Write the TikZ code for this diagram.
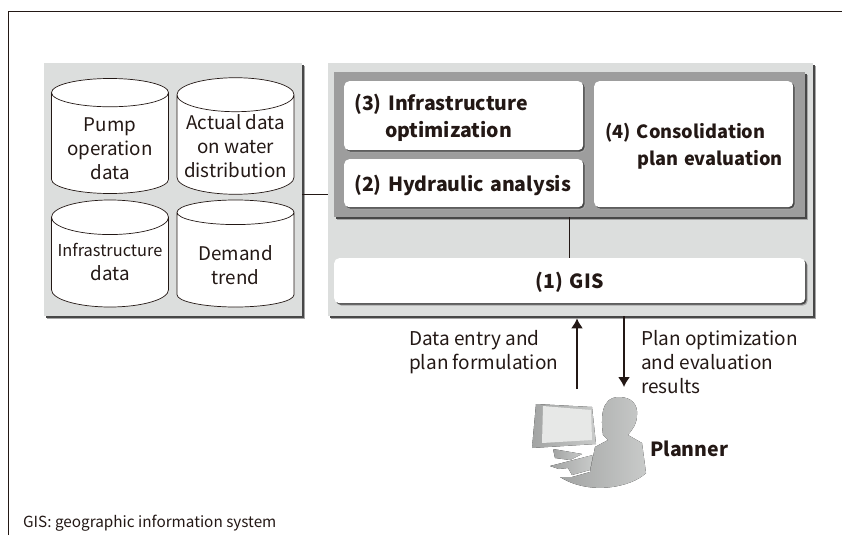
\documentclass[tikz,border=0pt]{standalone}
\usepackage{fontspec}
\setmainfont{Noto Sans CJK JP}
\usetikzlibrary{positioning,shapes.geometric,shadows,arrows.meta}
\definecolor{panelgray}{HTML}{DCDEDD}
\definecolor{innergray}{HTML}{9D9D9D}
\definecolor{inkdark}{HTML}{231815}
\definecolor{shadegray}{HTML}{BFC1C0}
\newcommand{\cyltop}[1]{\rule{0pt}{#1}}
\tikzset{
  softshadow/.style={drop shadow={shadow xshift=#1+1pt,shadow yshift=-#1-1pt,fill=black!35,opacity=1},
    drop shadow={shadow xshift=#1,shadow yshift=-#1,fill=black!72,opacity=1}},
  panelbox/.style={fill=panelgray,softshadow=2pt,anchor=north west,inner sep=0pt},
  whitebox/.style={fill=white,rounded corners=5pt,softshadow=1.5pt,anchor=north west,align=left,
    font=\bfseries\fontsize{19.5}{27}\selectfont,text=inkdark,inner xsep=10pt,inner ysep=0pt,
    execute at begin node={\cyltop{20pt}}},
  datacyl/.style={cylinder,shape border rotate=90,aspect=0.33,draw=inkdark,fill=white,line width=0.7pt,
    minimum width=117pt,anchor=shape center,align=center,font=\fontsize{18.8}{24}\selectfont,text=inkdark,inner sep=0pt},
  link/.style={draw=inkdark,line width=1.3pt},
  flowlink/.style={draw=inkdark,line width=1.5pt},
  flowtext/.style={font=\fontsize{19}{24}\selectfont,text=inkdark,align=left,inner sep=0pt,anchor=west},
  icongray/.style={left color=shadegray!85!black,right color=shadegray!85!white}
}
\begin{document}
\begin{tikzpicture}[x=1pt,y=-1pt,>={Latex[length=10pt,width=12pt]}]
  \useasboundingbox (0,0) rectangle (842,535);

  % frame
  \coordinate (f1) at (8,11);
  \coordinate (f2) at (842,11);
  \coordinate (f3) at (8,535);
  \draw [inkdark,line width=0.8pt] (f3) -- (f1) -- (f2);

  % panels
  \node[panelbox,minimum width=258pt,minimum height=253pt] (dataPanel) at (44,63) {};
  \node[panelbox,minimum width=485pt,minimum height=253pt] (sysPanel) at (328,63) {};
  \node[panelbox,fill=innergray,minimum width=471pt,minimum height=145pt] (optPanel) at (334,72) {};

  % data stores
  \node[datacyl,minimum height=109pt] (pump) at (110,136) {\cyltop{24pt}Pump\\operation\\data};
  \node[datacyl,minimum height=109pt] (actual) at (235.5,136) {\cyltop{17pt}Actual data\\on water\\distribution};
  \node[datacyl,minimum height=107pt] (infra) at (110,253.5) {\fontsize{16.4}{24}\selectfont Infrastructure\\data};
  \node[datacyl,minimum height=107pt] (demand) at (235.5,253.5) {\cyltop{26pt}Demand\\trend};

  % functions
  \node[whitebox,minimum width=239pt,minimum height=69pt,text width=219pt] (optBox) at (344,81) {(3) Infrastructure\\\hspace*{31pt}optimization};
  \node[whitebox,minimum width=239pt,minimum height=48pt,text width=219pt] (hydBox) at (344,159) {(2) Hydraulic analysis};
  \node[whitebox,font=\bfseries\fontsize{18.2}{27}\selectfont,minimum width=199pt,minimum height=126pt,text width=190pt,inner xsep=4.5pt] (evalBox) at (594,81) {\hspace*{6.5pt}(4) Consolidation\\\hspace*{38.5pt}plan evaluation};
  \node[whitebox,align=center,minimum width=471pt,minimum height=45pt,text width=451pt] (gisBox) at (334,258) {(1) GIS};

  % connectors
  \draw [link] (dataPanel.east |- actual.south) -- (sysPanel.west |- actual.south);
  \draw [link] (optPanel.south -| gisBox.north) -- (gisBox.north);

  \coordinate (upFoot) at (577,389);
  \coordinate (downFoot) at (624,387);
  \draw [->,flowlink,shorten >=2pt] (upFoot) -- (upFoot |- sysPanel.south);
  \draw [->,flowlink] (downFoot |- sysPanel.south) -- (downFoot);

  \node[flowtext] (entryText) at (409,352) {Data entry and\\plan formulation};
  \node[flowtext] (planText) at (641,362) {Plan optimization\\and evaluation\\results};

  % planner icon
  \fill [icongray] (536,404) -- (592,407) -- (596,444) -- (532,448) -- cycle;
  \fill [panelgray!70!white] (543,406) -- (591,410) -- (592,440) -- (542,443) -- cycle;
  \fill [icongray] (553,449) -- (582,454) -- (570,460) -- (555,458) -- cycle;
  \fill [icongray] (550,466) -- (593,455) -- (590,470) -- (572,475) -- (568,468) -- (559,469) -- cycle;
  \fill [icongray] (619,397) .. controls (632,397) and (638,405) .. (637,415)
    .. controls (637,424) and (632,430) .. (628,435) -- (642,443) -- (646,473)
    .. controls (632,487) and (590,496) .. (560,477) -- (572,477) -- (590,472) -- (595,447) -- (608,440) -- (603,435)
    .. controls (601,420) and (600,397) .. (619,397) -- cycle;

  \node[font=\bfseries\fontsize{19.5}{24}\selectfont,text=inkdark,inner sep=0pt,anchor=west] (planner) at (650,449) {Planner};
  \node[anchor=west,font=\fontsize{15.3}{18}\selectfont,text=inkdark,inner sep=0pt] (note) at (23,523) {GIS: geographic information system};

\end{tikzpicture}
\end{document}
